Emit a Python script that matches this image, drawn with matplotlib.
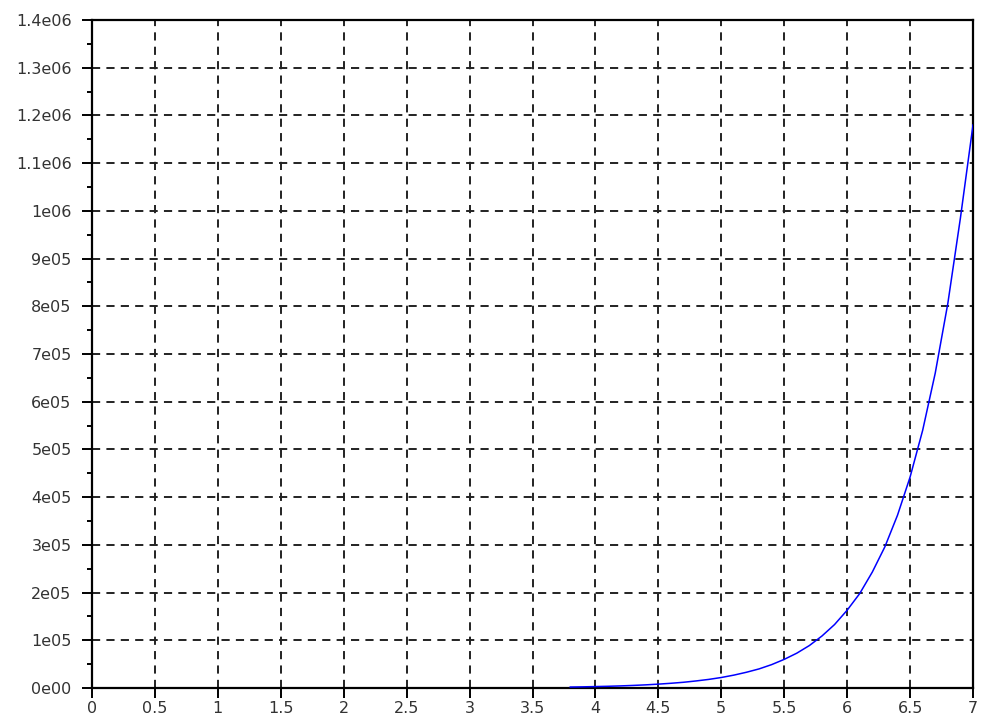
import matplotlib
matplotlib.use("Agg")
import matplotlib.pyplot as plt
from matplotlib.ticker import MultipleLocator

# curve samples
x = [3.8, 3.9, 4.0, 4.1, 4.2, 4.3, 4.4, 4.5, 4.6, 4.7, 4.8, 4.9,
     5.0, 5.1, 5.2, 5.3, 5.4, 5.5, 5.6, 5.7, 5.8, 5.9,
     6.0, 6.1, 6.2, 6.3, 6.4, 6.5, 6.6, 6.7, 6.8, 6.9, 7.0]
y = [2000, 2400, 3000, 3600, 4400, 5400, 6600, 8100, 9900, 12000, 14800, 18000,
     22000, 27000, 33000, 40000, 49000, 60000, 73000, 89000, 109000, 133000,
     163000, 198000, 243000, 296000, 362000, 442000, 540000, 660000, 806000, 985000, 1180000]

xticks = [i * 0.5 for i in range(15)]
xlabels = ["0", "0.5", "1", "1.5", "2", "2.5", "3", "3.5", "4", "4.5", "5", "5.5", "6", "6.5", "7"]
yticks = [i * 1e5 for i in range(15)]
ylabels = ["0e00", "1e05", "2e05", "3e05", "4e05", "5e05", "6e05", "7e05", "8e05", "9e05",
           "1e06", "1.1e06", "1.2e06", "1.3e06", "1.4e06"]

fig = plt.figure(figsize=(9.81, 7.21), dpi=100)
ax = fig.add_axes([92 / 981, 33 / 721, 881 / 981, 668 / 721])

ax.plot(x, y, color="#0000ff", lw=1.1, zorder=3)

ax.set_xlim(0, 7)
ax.set_ylim(0, 1.4e6)
ax.set_xticks(xticks)
ax.set_xticklabels(xlabels)
ax.set_yticks(yticks)
ax.set_yticklabels(ylabels)
ax.yaxis.set_minor_locator(MultipleLocator(5e4))

ax.grid(True, which="major", color="#222222", lw=1.4, linestyle=(0, (4.2, 3.2)))
ax.tick_params(axis="both", which="major", length=7.2, width=1.4,
               labelsize=11.5, colors="black", labelcolor="#333333")
ax.tick_params(axis="y", which="major", pad=7.5)
ax.tick_params(axis="x", which="major", pad=2.0)
ax.tick_params(axis="y", which="minor", length=3.6, width=1.4)
for s in ax.spines.values():
    s.set_linewidth(1.6)
    s.set_color("black")

fig.savefig("out.png", dpi=100)
